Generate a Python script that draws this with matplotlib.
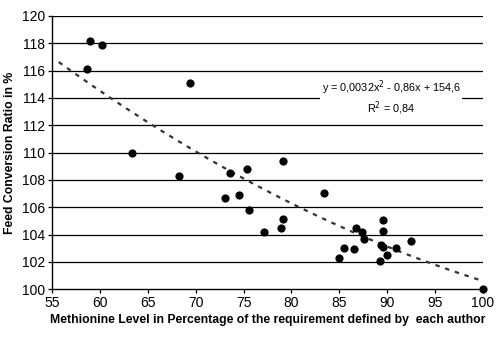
import numpy as np
import matplotlib
matplotlib.use("Agg")
import matplotlib.pyplot as plt

plt.rcParams['font.family'] = ['Liberation Sans', 'DejaVu Sans']

methionine = [59.0, 60.2, 58.65, 69.4, 63.35, 68.3, 73.6, 75.35, 79.07, 73.05, 74.5, 75.55,
              77.1, 78.94, 79.07, 83.4, 86.76, 87.4, 87.57, 85.44, 86.56, 84.96, 89.6, 89.6,
              89.3, 89.55, 90.0, 89.24, 90.94, 92.45, 100.0]
fcr = [118.15, 117.9, 116.15, 115.1, 109.98, 108.3, 108.5, 108.8, 109.35, 106.7, 106.9, 105.8,
       104.2, 104.47, 105.17, 107.05, 104.5, 104.22, 103.66, 102.98, 102.93, 102.25, 105.05, 104.27,
       103.23, 103.08, 102.52, 102.08, 102.98, 103.49, 100.03]
trend_coef = [0.0032, -0.86, 154.6]
x_ticks = [55, 60, 65, 70, 75, 80, 85, 90, 95, 100]
y_ticks = [100, 102, 104, 106, 108, 110, 112, 114, 116, 118, 120]
equation = "y = 0,0032x$^2$ - 0,86x + 154,6\nR$^2$ = 0,84"

fig = plt.figure(figsize=(5, 3.39), dpi=100)
ax = fig.add_axes([0.104, 0.147, 0.862, 0.806])

for yt in y_ticks[1:]:
    ax.axhline(yt, color='black', lw=0.9, zorder=1)

ax.scatter(methionine, fcr, s=24, color='black', zorder=3, clip_on=False)

xs = np.linspace(55.7, 100, 200)
ax.plot(xs, np.polyval(trend_coef, xs), color='#333333', lw=1.6, linestyle=(0, (2, 2.6)), zorder=2)

ax.text(90.4, 114.0, equation, ha='center', va='center', fontsize=7.8, linespacing=1.15,
        bbox=dict(facecolor='white', edgecolor='none', pad=1.0), zorder=4)

ax.set_xlim(55, 100)
ax.set_ylim(100, 120)
ax.set_xticks(x_ticks)
ax.set_yticks(y_ticks)
ax.tick_params(labelsize=10, length=3, width=0.9, direction='out', pad=2)
for s in ['top', 'right']:
    ax.spines[s].set_visible(False)
for s in ['left', 'bottom']:
    ax.spines[s].set_linewidth(1.0)
ax.set_xlabel("Methionine Level in Percentage of the requirement defined by  each author",
              fontsize=8.8, fontweight='bold', labelpad=3)
ax.set_ylabel("Feed Conversion Ratio in %", fontsize=8.8, fontweight='bold', labelpad=4)

fig.savefig("out.png", dpi=100)
